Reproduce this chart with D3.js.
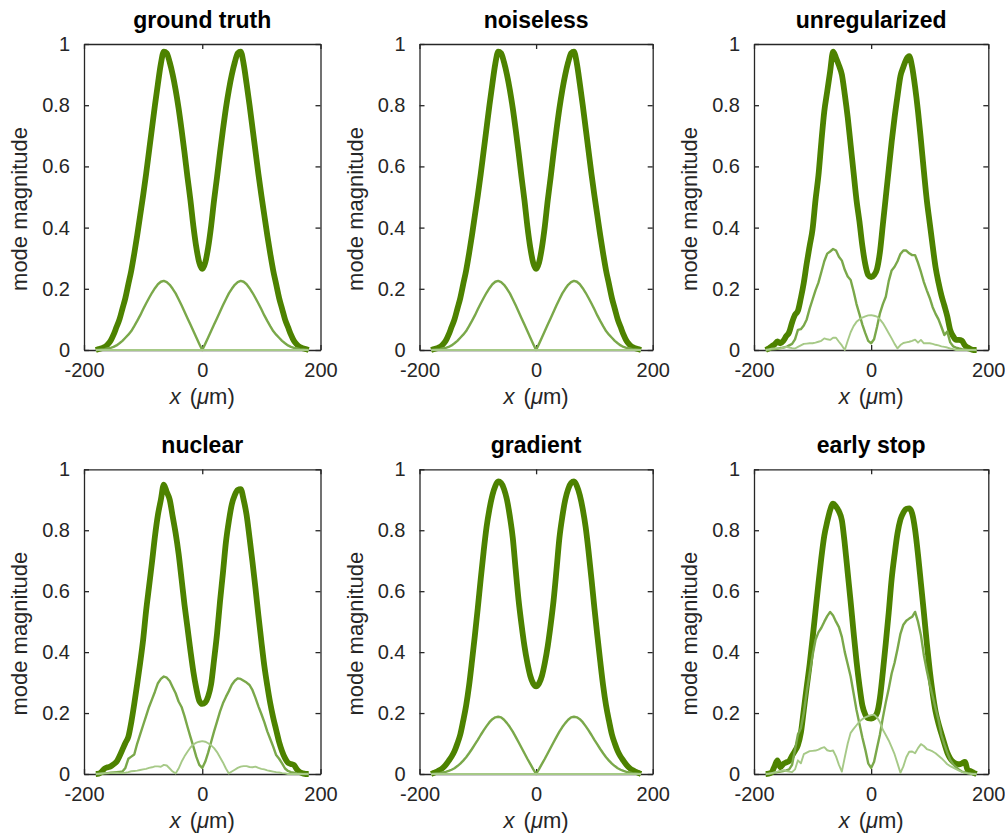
<!DOCTYPE html>
<html>
<head>
<meta charset="utf-8">
<script src="https://cdn.jsdelivr.net/npm/d3@7"></script>
<style>
  html, body { margin: 0; padding: 0; background: #ffffff; }
  svg { display: block; }
</style>
</head>
<body>
<svg id="chart" width="1005" height="836"></svg>
<script>
// Transverse position grid (µm) shared by every profile
const positions = [
  -180, -175, -170, -165, -160, -155, -150, -145, -140, -135, -130, -125,
  -120, -115, -110, -105, -100, -95, -90, -85, -80, -75, -70, -65,
  -60, -55, -50, -45, -40, -35, -30, -25, -20, -15, -10, -5,
  0,
  5, 10, 15, 20, 25, 30, 35, 40, 45, 50, 55, 60,
  65, 70, 75, 80, 85, 90, 95, 100, 105, 110, 115, 120,
  125, 130, 135, 140, 145, 150, 155, 160, 165, 170, 175, 180
];

// ground truth
const groundTotal = [
  0.0, 0.003, 0.006, 0.01, 0.018, 0.03, 0.05, 0.075, 0.1, 0.135, 0.17, 0.215,
  0.26, 0.315, 0.375, 0.44, 0.505, 0.575, 0.65, 0.725, 0.8, 0.87, 0.935, 0.975,
  0.97, 0.94, 0.9, 0.85, 0.79, 0.72, 0.645, 0.565, 0.49, 0.405, 0.335, 0.285,
  0.265,
  0.285, 0.335, 0.405, 0.49, 0.565, 0.645, 0.72, 0.79, 0.85, 0.9, 0.94, 0.97,
  0.975, 0.935, 0.87, 0.8, 0.725, 0.65, 0.575, 0.505, 0.44, 0.375, 0.315, 0.26,
  0.215, 0.17, 0.135, 0.1, 0.075, 0.05, 0.03, 0.018, 0.01, 0.006, 0.003, 0.0
];
const groundMode2 = [
  0, 0.001, 0.002, 0.003, 0.005, 0.007, 0.01, 0.015, 0.022, 0.03, 0.04, 0.05,
  0.062, 0.078, 0.095, 0.113, 0.133, 0.152, 0.17, 0.187, 0.202, 0.215, 0.223, 0.226,
  0.222, 0.213, 0.2, 0.185, 0.166, 0.146, 0.125, 0.104, 0.083, 0.062, 0.041, 0.02,
  0,
  0.02, 0.041, 0.062, 0.083, 0.104, 0.125, 0.146, 0.166, 0.185, 0.2, 0.213, 0.222,
  0.226, 0.223, 0.215, 0.202, 0.187, 0.17, 0.152, 0.133, 0.113, 0.095, 0.078, 0.062,
  0.05, 0.04, 0.03, 0.022, 0.015, 0.01, 0.007, 0.005, 0.003, 0.002, 0.001, 0
];
const groundMode3 = [
  0, 0, 0, 0, 0, 0, 0, 0, 0, 0, 0, 0,
  0, 0, 0, 0, 0, 0, 0, 0, 0, 0, 0, 0,
  0, 0, 0, 0, 0, 0, 0, 0, 0, 0, 0, 0,
  0,
  0, 0, 0, 0, 0, 0, 0, 0, 0, 0, 0, 0,
  0, 0, 0, 0, 0, 0, 0, 0, 0, 0, 0, 0,
  0, 0, 0, 0, 0, 0, 0, 0, 0, 0, 0, 0
];

// noiseless reconstruction (coincides with the ground truth)
const noiselessTotal = groundTotal;
const noiselessMode2 = groundMode2;
const noiselessMode3 = groundMode3;

// unregularized reconstruction
const unregTotal = [
  0.0, 0.005, 0.012, 0.018, 0.028, 0.022, 0.03, 0.045, 0.058, 0.09, 0.115, 0.128,
  0.17, 0.22, 0.283, 0.34, 0.395, 0.49, 0.57, 0.68, 0.78, 0.845, 0.91, 0.975,
  0.955, 0.93, 0.9, 0.835, 0.76, 0.67, 0.58, 0.49, 0.42, 0.34, 0.28, 0.245,
  0.238,
  0.245, 0.265, 0.32, 0.41, 0.5, 0.59, 0.68, 0.76, 0.83, 0.895, 0.925, 0.95,
  0.96, 0.925, 0.86, 0.78, 0.685, 0.585, 0.49, 0.415, 0.34, 0.27, 0.22, 0.178,
  0.145, 0.11, 0.065, 0.045, 0.033, 0.033, 0.03, 0.015, 0.008, 0.003, 0.0, 0.0
];
const unregMode2 = [
  0, 0, 0.002, 0.003, 0.004, 0.006, 0.008, 0.01, 0.015, 0.02, 0.035, 0.066,
  0.068, 0.08, 0.1, 0.135, 0.165, 0.195, 0.22, 0.255, 0.29, 0.315, 0.322, 0.33,
  0.325, 0.305, 0.292, 0.262, 0.24, 0.229, 0.192, 0.15, 0.117, 0.083, 0.055, 0.03,
  0.022,
  0.035, 0.075, 0.12, 0.15, 0.174, 0.225, 0.26, 0.272, 0.29, 0.314, 0.325, 0.325,
  0.316, 0.31, 0.31, 0.285, 0.255, 0.222, 0.195, 0.17, 0.14, 0.118, 0.1, 0.075,
  0.049, 0.06, 0.025, 0.012, 0.008, 0.005, 0.003, 0.002, 0, 0, 0, 0
];
const unregMode3 = [
  0, 0.002, 0.004, 0.005, 0.006, 0.005, 0.008, 0.01, 0.008, 0.006, 0.005, 0.01,
  0.015, 0.02, 0.021, 0.022, 0.022, 0.024, 0.027, 0.03, 0.038, 0.035, 0.033, 0.04,
  0.04, 0.027, 0.015, 0.0, 0.03, 0.058, 0.078, 0.092, 0.1, 0.106, 0.11, 0.113,
  0.114,
  0.112, 0.109, 0.1, 0.088, 0.072, 0.055, 0.038, 0.02, 0.005, 0.016, 0.023, 0.025,
  0.027, 0.03, 0.034, 0.024, 0.033, 0.022, 0.022, 0.022, 0.02, 0.017, 0.015, 0.012,
  0.01, 0.008, 0.005, 0.003, 0, 0, 0, 0, 0, 0, 0, 0
];

// nuclear-norm regularization
const nuclearTotal = [
  0, 0.001, 0.008, 0.018, 0.022, 0.025, 0.032, 0.04, 0.058, 0.08, 0.102, 0.122,
  0.17, 0.23, 0.296, 0.365, 0.44, 0.535, 0.615, 0.695, 0.78, 0.85, 0.9, 0.95,
  0.925, 0.9, 0.845, 0.79, 0.723, 0.64, 0.555, 0.48, 0.405, 0.335, 0.28, 0.24,
  0.23,
  0.235, 0.255, 0.295, 0.375, 0.46, 0.565, 0.66, 0.76, 0.83, 0.885, 0.915, 0.932,
  0.935, 0.9, 0.85, 0.775, 0.695, 0.61, 0.52, 0.435, 0.355, 0.29, 0.232, 0.185,
  0.145, 0.105, 0.075, 0.052, 0.037, 0.033, 0.03, 0.015, 0.006, 0.002, 0, 0
];
const nuclearMode2 = [
  0, 0, 0.001, 0.002, 0.003, 0.004, 0.005, 0.006, 0.007, 0.008, 0.02, 0.05,
  0.057, 0.064, 0.1, 0.13, 0.16, 0.19, 0.22, 0.245, 0.27, 0.298, 0.312, 0.32,
  0.316, 0.305, 0.285, 0.265, 0.238, 0.22, 0.19, 0.155, 0.122, 0.09, 0.056, 0.03,
  0.02,
  0.04, 0.07, 0.105, 0.14, 0.172, 0.205, 0.232, 0.253, 0.272, 0.293, 0.306, 0.314,
  0.312, 0.306, 0.3, 0.292, 0.275, 0.25, 0.222, 0.197, 0.17, 0.14, 0.115, 0.09,
  0.062, 0.05, 0.035, 0.018, 0.01, 0.006, 0.004, 0.002, 0.001, 0, 0, 0
];
const nuclearMode3 = [
  0, 0.001, 0.002, 0.003, 0.003, 0.004, 0.004, 0.004, 0.003, 0.003, 0.004, 0.006,
  0.009, 0.01, 0.011, 0.013, 0.015, 0.017, 0.02, 0.022, 0.025, 0.025, 0.024, 0.03,
  0.028, 0.018, 0.008, 0.002, 0.018, 0.04, 0.058, 0.073, 0.087, 0.097, 0.103, 0.106,
  0.108,
  0.106, 0.101, 0.094, 0.085, 0.072, 0.055, 0.038, 0.018, 0.002, 0.008, 0.014, 0.02,
  0.024, 0.026, 0.026, 0.023, 0.022, 0.024, 0.02, 0.017, 0.015, 0.012, 0.01, 0.008,
  0.006, 0.005, 0.003, 0.002, 0, 0, 0, 0, 0, 0, 0, 0
];

// gradient regularization
const gradientTotal = [
  0.0, 0.004, 0.008, 0.013, 0.02, 0.03, 0.043, 0.057, 0.075, 0.1, 0.13, 0.175,
  0.225, 0.29, 0.37, 0.455, 0.545, 0.64, 0.73, 0.81, 0.87, 0.915, 0.945, 0.96,
  0.955, 0.935, 0.9, 0.845, 0.775, 0.67, 0.57, 0.49, 0.42, 0.365, 0.322, 0.297,
  0.288,
  0.297, 0.322, 0.365, 0.42, 0.49, 0.57, 0.67, 0.775, 0.845, 0.9, 0.935, 0.955,
  0.96, 0.945, 0.915, 0.87, 0.81, 0.73, 0.64, 0.545, 0.455, 0.37, 0.29, 0.225,
  0.175, 0.13, 0.1, 0.075, 0.057, 0.043, 0.03, 0.02, 0.013, 0.008, 0.004, 0.0
];
const gradientMode2 = [
  0, 0.001, 0.002, 0.003, 0.005, 0.007, 0.01, 0.014, 0.019, 0.026, 0.034, 0.044,
  0.055, 0.068, 0.082, 0.097, 0.112, 0.128, 0.143, 0.157, 0.17, 0.18, 0.186, 0.188,
  0.186, 0.178, 0.167, 0.154, 0.139, 0.122, 0.104, 0.086, 0.068, 0.05, 0.033, 0.016,
  0,
  0.016, 0.033, 0.05, 0.068, 0.086, 0.104, 0.122, 0.139, 0.154, 0.167, 0.178, 0.186,
  0.188, 0.186, 0.18, 0.17, 0.157, 0.143, 0.128, 0.112, 0.097, 0.082, 0.068, 0.055,
  0.044, 0.034, 0.026, 0.019, 0.014, 0.01, 0.007, 0.005, 0.003, 0.002, 0.001, 0
];
const gradientMode3 = groundMode3;

// early stopping
const earlyTotal = [
  0, 0.001, 0.005, 0.025, 0.045, 0.022, 0.033, 0.038, 0.043, 0.06, 0.076, 0.095,
  0.135, 0.21, 0.286, 0.36, 0.445, 0.535, 0.625, 0.71, 0.782, 0.828, 0.866, 0.887,
  0.878, 0.862, 0.833, 0.755, 0.66, 0.565, 0.465, 0.37, 0.29, 0.225, 0.195, 0.183,
  0.182,
  0.186, 0.2, 0.25, 0.335, 0.43, 0.53, 0.64, 0.72, 0.79, 0.835, 0.858, 0.87,
  0.872, 0.855, 0.802, 0.72, 0.625, 0.53, 0.43, 0.34, 0.265, 0.205, 0.165, 0.132,
  0.1, 0.07, 0.051, 0.04, 0.034, 0.032, 0.035, 0.04, 0.012, 0.009, 0.004, 0
];
const earlyMode2 = [
  0, 0.001, 0.002, 0.004, 0.006, 0.008, 0.01, 0.012, 0.015, 0.03, 0.08, 0.13,
  0.15, 0.2, 0.27, 0.33, 0.39, 0.44, 0.465, 0.48, 0.5, 0.518, 0.532, 0.52,
  0.5, 0.482, 0.45, 0.4, 0.36, 0.32, 0.265, 0.21, 0.165, 0.12, 0.08, 0.035,
  0.02,
  0.04, 0.085, 0.13, 0.185, 0.235, 0.28, 0.33, 0.365, 0.41, 0.46, 0.49, 0.503,
  0.51, 0.516, 0.532, 0.5, 0.455, 0.39, 0.34, 0.295, 0.255, 0.215, 0.177, 0.128,
  0.097, 0.07, 0.046, 0.032, 0.022, 0.014, 0.008, 0.005, 0.003, 0.001, 0, 0
];
const earlyMode3 = [
  0, 0.001, 0.003, 0.005, 0.008, 0.01, 0.012, 0.01, 0.008, 0.006, 0.015, 0.045,
  0.035, 0.065, 0.07, 0.075, 0.076, 0.077, 0.08, 0.085, 0.088, 0.078, 0.075, 0.077,
  0.058, 0.03, 0.008, 0.055, 0.1, 0.135, 0.148, 0.16, 0.172, 0.18, 0.186, 0.19,
  0.193,
  0.195, 0.186, 0.17, 0.145, 0.128, 0.11, 0.088, 0.065, 0.035, 0.004, 0.025, 0.055,
  0.073, 0.074, 0.068, 0.085, 0.098, 0.092, 0.082, 0.078, 0.074, 0.068, 0.06, 0.052,
  0.042, 0.032, 0.026, 0.021, 0.016, 0.011, 0.007, 0.004, 0.002, 0.001, 0, 0
];

const panelTitles = ["ground truth", "noiseless", "unregularized", "nuclear", "gradient", "early stop"];
const panelSeries = [
  [groundTotal, groundMode2, groundMode3],
  [noiselessTotal, noiselessMode2, noiselessMode3],
  [unregTotal, unregMode2, unregMode3],
  [nuclearTotal, nuclearMode2, nuclearMode3],
  [gradientTotal, gradientMode2, gradientMode3],
  [earlyTotal, earlyMode2, earlyMode3]
];
const xTicks = [-200, 0, 200];
const yTicks = [0, 0.2, 0.4, 0.6, 0.8, 1];

// ---- layout and styling ----
const FONT = "'Liberation Sans', Arial, Helvetica, sans-serif";
const AXIS_COLOR = "#262626";
const columns = [{ x0: 84, x1: 320.5 }, { x0: 419.5, x1: 652.7 }, { x0: 754, x1: 988.3 }];
const rowsBox = [{ y0: 44, y1: 350 }, { y0: 469.3, y1: 774 }];
const lineStyles = [
  { color: "#4d8200", width: 5.8, curve: d3.curveMonotoneX },
  { color: "#7aa84a", width: 2.4, curve: d3.curveLinear },
  { color: "#a6c987", width: 1.9, curve: d3.curveLinear }
];

const svg = d3.select("#chart");
svg.append("rect").attr("width", 1005).attr("height", 836).attr("fill", "#ffffff");

panelTitles.forEach((title, i) => {
  const col = columns[i % 3];
  const row = rowsBox[Math.floor(i / 3)];
  const x = d3.scaleLinear().domain([-200, 200]).range([col.x0, col.x1]);
  const y = d3.scaleLinear().domain([0, 1]).range([row.y1, row.y0]);
  const g = svg.append("g");

  const fmt = d => String(d);

  // bottom / left axes carry labels, top / right only ticks; all ticks point inward
  const axes = [
    { axis: d3.axisBottom(x).tickValues(xTicks).tickFormat(fmt).tickPadding(13), t: `translate(0,${row.y1})` },
    { axis: d3.axisTop(x).tickValues(xTicks).tickFormat(""), t: `translate(0,${row.y0})` },
    { axis: d3.axisLeft(y).tickValues(yTicks).tickFormat(fmt).tickPadding(14), t: `translate(${col.x0},0)` },
    { axis: d3.axisRight(y).tickValues(yTicks).tickFormat(""), t: `translate(${col.x1},0)` }
  ];
  axes.forEach(a => {
    const ag = g.append("g")
      .attr("transform", a.t)
      .call(a.axis.tickSizeInner(-5).tickSizeOuter(0));
    ag.select(".domain").attr("stroke", AXIS_COLOR).attr("stroke-width", 1.3);
    ag.selectAll(".tick line").attr("stroke", AXIS_COLOR).attr("stroke-width", 1.3);
    ag.selectAll(".tick text")
      .attr("fill", AXIS_COLOR)
      .style("font-family", FONT)
      .style("font-size", "20px");
  });

  // profiles: total magnitude first, then the two component modes
  panelSeries[i].forEach((values, s) => {
    const line = d3.line()
      .x((d, k) => x(positions[k]))
      .y(d => y(d))
      .curve(lineStyles[s].curve);
    g.append("path")
      .datum(values)
      .attr("d", line)
      .attr("fill", "none")
      .attr("stroke", lineStyles[s].color)
      .attr("stroke-width", lineStyles[s].width)
      .attr("stroke-linejoin", "round")
      .attr("stroke-linecap", "butt");
  });

  const cx = (col.x0 + col.x1) / 2;

  // title
  g.append("text")
    .attr("x", cx)
    .attr("y", row.y0 - 16)
    .attr("text-anchor", "middle")
    .style("font-family", FONT)
    .style("font-size", "23px")
    .style("font-weight", "bold")
    .attr("fill", "#000000")
    .text(title);

  // y label
  const ly = (row.y0 + row.y1) / 2 + 12;
  g.append("text")
    .attr("transform", `translate(${col.x0 - 57},${ly}) rotate(-90)`)
    .attr("text-anchor", "middle")
    .style("font-family", FONT)
    .style("font-size", "22px")
    .attr("fill", AXIS_COLOR)
    .text("mode magnitude");

  // x label
  const xl = g.append("text")
    .attr("x", cx)
    .attr("y", row.y1 + 54)
    .attr("text-anchor", "middle")
    .style("font-family", FONT)
    .style("font-size", "22px")
    .attr("fill", AXIS_COLOR);
  xl.append("tspan").style("font-style", "italic").text("x");
  xl.append("tspan").attr("dx", 9).text("(");
  xl.append("tspan").style("font-style", "italic").text("\u03bc");
  xl.append("tspan").text("m)");
});
</script>
</body>
</html>
